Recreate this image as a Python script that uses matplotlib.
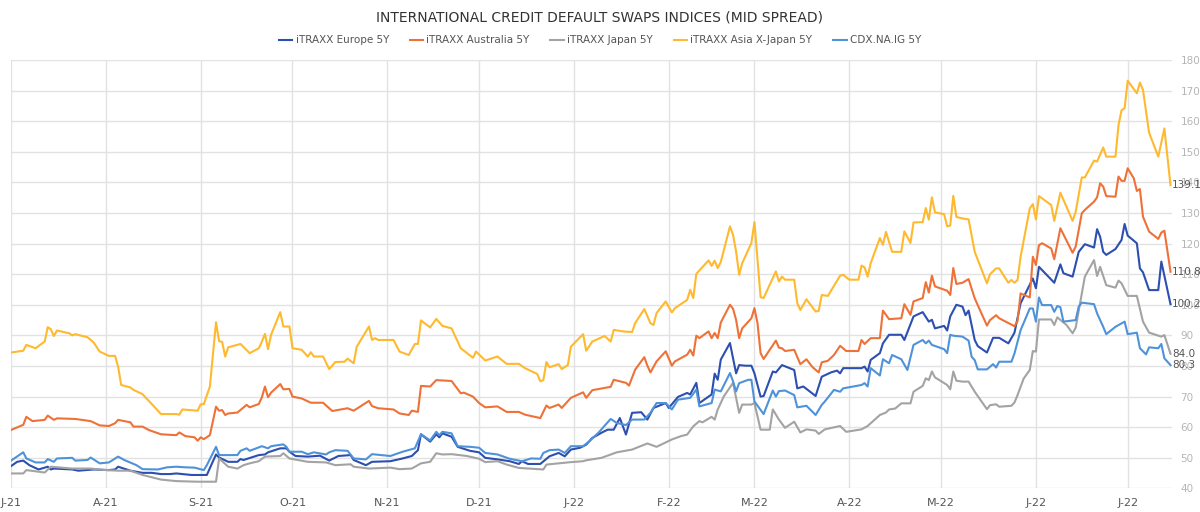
import matplotlib
matplotlib.use("Agg")
import matplotlib.pyplot as plt
import matplotlib.dates as mdates
import pandas as pd

# --- data (bp) ---
eu_dates = ["2021-07-01", "2021-07-03", "2021-07-05", "2021-07-07", "2021-07-10", "2021-07-13", "2021-07-14",
            "2021-07-15", "2021-07-21", "2021-07-23", "2021-07-28", "2021-08-02", "2021-08-04", "2021-08-05",
            "2021-08-09", "2021-08-13", "2021-08-16", "2021-08-19", "2021-08-22", "2021-08-24", "2021-08-29",
            "2021-09-03", "2021-09-06", "2021-09-07", "2021-09-10", "2021-09-13", "2021-09-14", "2021-09-15",
            "2021-09-20", "2021-09-22", "2021-09-23", "2021-09-27", "2021-09-29", "2021-09-30", "2021-10-02",
            "2021-10-06", "2021-10-10", "2021-10-13", "2021-10-16", "2021-10-20", "2021-10-21", "2021-10-25",
            "2021-10-27", "2021-11-02", "2021-11-06", "2021-11-09", "2021-11-11", "2021-11-12", "2021-11-15",
            "2021-11-17", "2021-11-18", "2021-11-19", "2021-11-22", "2021-11-24", "2021-11-28", "2021-12-01",
            "2021-12-03", "2021-12-07", "2021-12-11", "2021-12-14", "2021-12-15", "2021-12-17", "2021-12-21",
            "2021-12-24", "2021-12-27", "2021-12-29", "2021-12-31", "2022-01-03", "2022-01-05", "2022-01-07",
            "2022-01-10", "2022-01-12", "2022-01-14", "2022-01-16", "2022-01-18", "2022-01-20", "2022-01-23",
            "2022-01-25", "2022-01-27", "2022-01-31", "2022-02-01", "2022-02-04", "2022-02-07", "2022-02-08",
            "2022-02-10", "2022-02-11", "2022-02-15", "2022-02-16", "2022-02-17", "2022-02-18", "2022-02-21",
            "2022-02-22", "2022-02-23", "2022-02-24", "2022-02-26", "2022-02-28", "2022-03-01", "2022-03-03",
            "2022-03-04", "2022-03-07", "2022-03-08", "2022-03-10", "2022-03-14", "2022-03-15", "2022-03-17",
            "2022-03-21", "2022-03-23", "2022-03-26", "2022-03-28", "2022-03-29", "2022-03-30", "2022-04-05",
            "2022-04-06", "2022-04-07", "2022-04-08", "2022-04-11", "2022-04-12", "2022-04-14", "2022-04-18",
            "2022-04-19", "2022-04-22", "2022-04-25", "2022-04-27", "2022-04-28", "2022-04-29", "2022-05-02",
            "2022-05-03", "2022-05-04", "2022-05-06", "2022-05-08", "2022-05-09", "2022-05-10", "2022-05-12",
            "2022-05-13", "2022-05-16", "2022-05-18", "2022-05-20", "2022-05-23", "2022-05-25", "2022-05-27",
            "2022-05-31", "2022-06-01", "2022-06-02", "2022-06-07", "2022-06-09", "2022-06-10", "2022-06-13",
            "2022-06-15", "2022-06-17", "2022-06-20", "2022-06-21", "2022-06-22", "2022-06-23", "2022-06-24",
            "2022-06-27", "2022-06-29", "2022-06-30", "2022-07-01", "2022-07-04", "2022-07-05", "2022-07-06",
            "2022-07-08", "2022-07-11", "2022-07-12", "2022-07-15"]
eu_vals = [47.3, 48.7, 49.1, 47.6, 46.2, 47.1, 46.2, 46.5, 46.2, 45.8, 46.2, 46.0, 46.2, 47.1, 45.8, 45.1, 45.1,
           44.7, 44.7, 44.9, 44.4, 44.4, 51.1, 50.1, 48.7, 48.7, 49.6, 49.3, 50.9, 51.1, 51.8, 53.1, 53.1, 52.0,
           50.6, 50.4, 50.7, 49.1, 50.6, 50.9, 49.3, 47.6, 48.7, 48.9, 49.8, 50.6, 52.5, 57.7, 55.3, 57.7, 56.7,
           58.0, 56.9, 53.6, 52.3, 51.8, 50.0, 49.5, 48.9, 48.0, 48.9, 48.0, 48.0, 50.5, 51.6, 50.5, 52.7, 53.3,
           54.3, 56.5, 58.2, 59.2, 59.2, 63.0, 57.6, 64.7, 64.9, 62.5, 66.3, 67.9, 66.3, 69.9, 71.2, 70.7, 74.5,
           67.9, 70.7, 77.5, 75.5, 82.1, 87.5, 82.5, 77.6, 80.3, 80.1, 80.1, 77.6, 70.0, 70.2, 78.2, 77.9, 80.3,
           78.7, 72.7, 73.3, 70.2, 76.5, 77.9, 78.5, 77.6, 79.3, 79.3, 79.8, 78.2, 82.0, 84.2, 87.4, 90.2, 90.2,
           88.5, 96.2, 97.6, 94.5, 95.1, 92.3, 93.1, 91.6, 96.2, 100.0, 99.4, 96.6, 98.1, 88.5, 86.5, 84.4, 89.2,
           89.2, 87.4, 90.9, 100.5, 108.6, 105.4, 112.4, 107.2, 113.2, 110.3, 109.2, 117.3, 119.8, 118.7, 124.7,
           122.2, 117.3, 116.3, 118.2, 121.2, 126.4, 122.6, 120.1, 111.9, 110.6, 104.8, 104.8, 114.1, 100.2]

au_dates = ["2021-07-01", "2021-07-05", "2021-07-06", "2021-07-08", "2021-07-12", "2021-07-13", "2021-07-15",
            "2021-07-16", "2021-07-22", "2021-07-27", "2021-07-30", "2021-08-02", "2021-08-04", "2021-08-05",
            "2021-08-09", "2021-08-10", "2021-08-13", "2021-08-15", "2021-08-19", "2021-08-24", "2021-08-25",
            "2021-08-27", "2021-08-30", "2021-08-31", "2021-09-01", "2021-09-02", "2021-09-04", "2021-09-06",
            "2021-09-07", "2021-09-08", "2021-09-09", "2021-09-10", "2021-09-13", "2021-09-16", "2021-09-17",
            "2021-09-20", "2021-09-21", "2021-09-22", "2021-09-23", "2021-09-24", "2021-09-27", "2021-09-28",
            "2021-09-30", "2021-10-01", "2021-10-04", "2021-10-07", "2021-10-11", "2021-10-14", "2021-10-19",
            "2021-10-21", "2021-10-26", "2021-10-27", "2021-10-29", "2021-11-03", "2021-11-05", "2021-11-08",
            "2021-11-09", "2021-11-11", "2021-11-12", "2021-11-15", "2021-11-17", "2021-11-22", "2021-11-25",
            "2021-11-26", "2021-11-29", "2021-12-01", "2021-12-03", "2021-12-07", "2021-12-10", "2021-12-14",
            "2021-12-16", "2021-12-21", "2021-12-23", "2021-12-24", "2021-12-27", "2021-12-28", "2021-12-31",
            "2022-01-04", "2022-01-05", "2022-01-07", "2022-01-13", "2022-01-14", "2022-01-18", "2022-01-19",
            "2022-01-21", "2022-01-24", "2022-01-25", "2022-01-26", "2022-01-28", "2022-01-31", "2022-02-02",
            "2022-02-03", "2022-02-07", "2022-02-08", "2022-02-09", "2022-02-10", "2022-02-11", "2022-02-14",
            "2022-02-15", "2022-02-16", "2022-02-17", "2022-02-18", "2022-02-21", "2022-02-22", "2022-02-23",
            "2022-02-24", "2022-02-25", "2022-02-28", "2022-03-01", "2022-03-02", "2022-03-03", "2022-03-04",
            "2022-03-08", "2022-03-09", "2022-03-10", "2022-03-11", "2022-03-14", "2022-03-16", "2022-03-18",
            "2022-03-20", "2022-03-22", "2022-03-23", "2022-03-25", "2022-03-27", "2022-03-29", "2022-03-31",
            "2022-04-04", "2022-04-05", "2022-04-06", "2022-04-08", "2022-04-11", "2022-04-12", "2022-04-14",
            "2022-04-18", "2022-04-19", "2022-04-21", "2022-04-22", "2022-04-25", "2022-04-26", "2022-04-27",
            "2022-04-28", "2022-04-29", "2022-05-03", "2022-05-04", "2022-05-05", "2022-05-06", "2022-05-08",
            "2022-05-10", "2022-05-12", "2022-05-16", "2022-05-17", "2022-05-19", "2022-05-20", "2022-05-25",
            "2022-05-26", "2022-05-27", "2022-05-30", "2022-05-31", "2022-06-01", "2022-06-02", "2022-06-03",
            "2022-06-06", "2022-06-07", "2022-06-09", "2022-06-13", "2022-06-14", "2022-06-16", "2022-06-17",
            "2022-06-20", "2022-06-21", "2022-06-22", "2022-06-23", "2022-06-24", "2022-06-27", "2022-06-28",
            "2022-06-29", "2022-06-30", "2022-07-01", "2022-07-03", "2022-07-04", "2022-07-05", "2022-07-06",
            "2022-07-08", "2022-07-11", "2022-07-12", "2022-07-13", "2022-07-15"]
au_vals = [59.1, 60.8, 63.4, 62.0, 62.4, 63.8, 62.4, 62.9, 62.7, 62.0, 60.6, 60.4, 61.3, 62.4, 61.6, 60.2, 60.2,
           59.1, 57.7, 57.4, 58.3, 57.1, 56.7, 55.6, 56.7, 56.1, 57.4, 66.7, 65.4, 65.6, 64.0, 64.5, 64.8, 67.3,
           66.5, 67.6, 69.8, 73.3, 69.8, 71.3, 74.1, 72.4, 72.5, 70.0, 69.4, 68.0, 68.0, 65.3, 66.2, 65.4, 68.6,
           66.9, 66.2, 65.8, 64.5, 64.0, 65.4, 65.0, 73.5, 73.3, 75.4, 75.1, 71.1, 71.3, 70.0, 67.9, 66.5, 66.8,
           65.0, 65.0, 64.1, 63.0, 67.1, 66.3, 67.4, 66.3, 69.6, 71.4, 69.6, 72.1, 73.2, 75.5, 74.5, 73.6, 78.8,
           82.9, 80.1, 77.9, 81.5, 84.8, 80.1, 81.5, 83.7, 85.3, 83.4, 89.9, 89.1, 91.3, 89.1, 90.8, 89.1, 94.2,
           100.0, 98.7, 95.1, 89.1, 92.3, 95.6, 98.9, 94.0, 84.2, 82.3, 88.3, 86.0, 85.8, 84.9, 85.3, 80.6, 82.2,
           79.6, 77.9, 81.2, 81.7, 83.6, 86.6, 84.9, 84.9, 88.5, 87.2, 89.1, 89.1, 98.1, 95.3, 95.6, 100.2, 96.7,
           101.1, 102.2, 107.4, 104.0, 109.5, 106.0, 104.6, 103.2, 112.0, 106.8, 107.2, 108.4, 102.1, 93.2, 95.0,
           96.6, 95.6, 93.0, 94.7, 103.7, 102.4, 115.7, 113.0, 119.5, 120.1, 118.4, 114.9, 125.0, 117.0, 119.0,
           129.9, 131.0, 133.7, 135.1, 139.7, 138.6, 135.5, 135.3, 141.9, 140.5, 140.5, 144.6, 141.3, 137.2,
           137.8, 128.8, 123.9, 121.5, 123.6, 124.2, 110.8]

jp_dates = ["2021-07-01", "2021-07-05", "2021-07-06", "2021-07-12", "2021-07-14", "2021-07-21", "2021-07-27",
            "2021-08-01", "2021-08-05", "2021-08-09", "2021-08-13", "2021-08-19", "2021-08-24", "2021-08-31",
            "2021-09-06", "2021-09-07", "2021-09-10", "2021-09-13", "2021-09-15", "2021-09-17", "2021-09-20",
            "2021-09-22", "2021-09-27", "2021-09-28", "2021-09-30", "2021-10-06", "2021-10-12", "2021-10-15",
            "2021-10-20", "2021-10-21", "2021-10-26", "2021-11-02", "2021-11-05", "2021-11-09", "2021-11-12",
            "2021-11-15", "2021-11-17", "2021-11-19", "2021-11-22", "2021-11-27", "2021-12-01", "2021-12-03",
            "2021-12-07", "2021-12-10", "2021-12-14", "2021-12-19", "2021-12-22", "2021-12-23", "2021-12-27",
            "2021-12-31", "2022-01-04", "2022-01-05", "2022-01-10", "2022-01-15", "2022-01-20", "2022-01-25",
            "2022-01-28", "2022-02-02", "2022-02-05", "2022-02-07", "2022-02-09", "2022-02-11", "2022-02-12",
            "2022-02-15", "2022-02-16", "2022-02-17", "2022-02-19", "2022-02-22", "2022-02-24", "2022-02-25",
            "2022-02-28", "2022-03-01", "2022-03-03", "2022-03-06", "2022-03-07", "2022-03-09", "2022-03-11",
            "2022-03-14", "2022-03-16", "2022-03-18", "2022-03-21", "2022-03-22", "2022-03-24", "2022-03-28",
            "2022-03-29", "2022-03-31", "2022-04-05", "2022-04-07", "2022-04-11", "2022-04-13", "2022-04-14",
            "2022-04-16", "2022-04-18", "2022-04-21", "2022-04-22", "2022-04-25", "2022-04-26", "2022-04-27",
            "2022-04-28", "2022-04-29", "2022-05-03", "2022-05-04", "2022-05-05", "2022-05-06", "2022-05-08",
            "2022-05-10", "2022-05-12", "2022-05-16", "2022-05-17", "2022-05-19", "2022-05-20", "2022-05-24",
            "2022-05-25", "2022-05-26", "2022-05-28", "2022-05-30", "2022-05-31", "2022-06-01", "2022-06-02",
            "2022-06-06", "2022-06-07", "2022-06-08", "2022-06-11", "2022-06-13", "2022-06-14", "2022-06-17",
            "2022-06-20", "2022-06-21", "2022-06-22", "2022-06-24", "2022-06-27", "2022-06-28", "2022-06-29",
            "2022-07-01", "2022-07-04", "2022-07-06", "2022-07-08", "2022-07-12", "2022-07-13", "2022-07-15"]
jp_vals = [44.9, 44.9, 46.0, 45.2, 47.1, 46.5, 46.5, 46.0, 45.8, 45.8, 44.4, 42.9, 42.4, 42.2, 42.2, 49.8, 47.1,
           46.5, 47.6, 48.2, 48.9, 50.4, 50.6, 51.5, 49.8, 48.7, 48.5, 47.6, 47.9, 47.1, 46.5, 46.8, 46.3, 46.5,
           48.2, 48.7, 51.5, 51.1, 51.2, 50.6, 49.7, 48.6, 48.9, 47.8, 46.7, 46.4, 46.2, 47.8, 48.2, 48.6, 48.9,
           49.2, 50.0, 51.8, 52.7, 54.7, 53.6, 56.0, 57.1, 57.6, 60.3, 62.0, 61.6, 63.4, 62.5, 65.8, 70.1, 74.5,
           64.7, 67.4, 67.4, 67.9, 59.2, 59.2, 65.8, 62.5, 59.8, 61.8, 58.3, 59.3, 58.9, 57.8, 59.3, 60.2, 60.4,
           58.5, 59.3, 60.4, 64.0, 64.8, 65.8, 66.1, 67.8, 67.8, 71.6, 73.5, 76.0, 75.4, 78.2, 76.3, 73.8, 72.4,
           78.2, 75.2, 74.9, 74.9, 71.6, 65.9, 67.2, 67.5, 66.7, 67.0, 68.1, 70.5, 75.9, 78.7, 84.9, 84.7, 95.2,
           95.2, 93.4, 95.9, 93.4, 90.7, 92.5, 109.2, 114.6, 109.4, 112.4, 106.4, 105.6, 107.9, 107.0, 102.9,
           102.9, 94.5, 90.9, 89.6, 90.1, 84.0]

asia_dates = ["2021-07-01", "2021-07-05", "2021-07-06", "2021-07-09", "2021-07-12", "2021-07-13", "2021-07-14",
              "2021-07-15", "2021-07-16", "2021-07-20", "2021-07-21", "2021-07-22", "2021-07-26", "2021-07-28",
              "2021-07-30", "2021-08-02", "2021-08-04", "2021-08-05", "2021-08-06", "2021-08-09", "2021-08-10",
              "2021-08-13", "2021-08-14", "2021-08-17", "2021-08-19", "2021-08-24", "2021-08-25", "2021-08-26",
              "2021-08-31", "2021-09-01", "2021-09-02", "2021-09-04", "2021-09-06", "2021-09-07", "2021-09-08",
              "2021-09-09", "2021-09-10", "2021-09-14", "2021-09-17", "2021-09-20", "2021-09-21", "2021-09-22",
              "2021-09-23", "2021-09-24", "2021-09-27", "2021-09-28", "2021-09-30", "2021-10-01", "2021-10-04",
              "2021-10-06", "2021-10-07", "2021-10-08", "2021-10-11", "2021-10-13", "2021-10-15", "2021-10-18",
              "2021-10-19", "2021-10-21", "2021-10-22", "2021-10-26", "2021-10-27", "2021-10-28", "2021-10-29",
              "2021-11-03", "2021-11-05", "2021-11-08", "2021-11-10", "2021-11-11", "2021-11-12", "2021-11-15",
              "2021-11-17", "2021-11-19", "2021-11-22", "2021-11-25", "2021-11-29", "2021-11-30", "2021-12-03",
              "2021-12-07", "2021-12-10", "2021-12-14", "2021-12-16", "2021-12-20", "2021-12-21", "2021-12-22",
              "2021-12-23", "2021-12-24", "2021-12-27", "2021-12-28", "2021-12-30", "2021-12-31", "2022-01-04",
              "2022-01-05", "2022-01-07", "2022-01-11", "2022-01-13", "2022-01-14", "2022-01-17", "2022-01-20",
              "2022-01-21", "2022-01-24", "2022-01-26", "2022-01-27", "2022-01-28", "2022-01-31", "2022-02-02",
              "2022-02-03", "2022-02-07", "2022-02-08", "2022-02-09", "2022-02-10", "2022-02-14", "2022-02-15",
              "2022-02-16", "2022-02-17", "2022-02-18", "2022-02-21", "2022-02-22", "2022-02-23", "2022-02-24",
              "2022-02-25", "2022-02-28", "2022-03-01", "2022-03-02", "2022-03-03", "2022-03-04", "2022-03-08",
              "2022-03-09", "2022-03-10", "2022-03-11", "2022-03-14", "2022-03-15", "2022-03-16", "2022-03-18",
              "2022-03-21", "2022-03-22", "2022-03-23", "2022-03-25", "2022-03-29", "2022-03-30", "2022-04-01",
              "2022-04-04", "2022-04-05", "2022-04-06", "2022-04-07", "2022-04-08", "2022-04-11", "2022-04-12",
              "2022-04-13", "2022-04-15", "2022-04-18", "2022-04-19", "2022-04-21", "2022-04-22", "2022-04-25",
              "2022-04-26", "2022-04-27", "2022-04-28", "2022-04-29", "2022-05-02", "2022-05-03", "2022-05-04",
              "2022-05-05", "2022-05-06", "2022-05-08", "2022-05-10", "2022-05-12", "2022-05-16", "2022-05-17",
              "2022-05-19", "2022-05-20", "2022-05-23", "2022-05-24", "2022-05-25", "2022-05-26", "2022-05-27",
              "2022-05-30", "2022-05-31", "2022-06-01", "2022-06-02", "2022-06-06", "2022-06-07", "2022-06-09",
              "2022-06-13", "2022-06-14", "2022-06-16", "2022-06-17", "2022-06-20", "2022-06-21", "2022-06-23",
              "2022-06-24", "2022-06-27", "2022-06-28", "2022-06-29", "2022-06-30", "2022-07-01", "2022-07-04",
              "2022-07-05", "2022-07-06", "2022-07-08", "2022-07-11", "2022-07-13", "2022-07-15"]
asia_vals = [84.4, 85.0, 86.9, 85.8, 88.0, 92.7, 92.0, 89.8, 91.6, 90.7, 90.0, 90.4, 89.4, 87.7, 84.7, 83.3,
             83.3, 79.8, 73.8, 73.0, 72.2, 70.8, 69.7, 66.5, 64.3, 64.3, 64.1, 65.8, 65.4, 67.5, 67.5, 73.3, 94.3,
             88.1, 87.9, 83.1, 86.1, 87.2, 84.2, 85.8, 88.0, 90.5, 85.5, 90.2, 97.6, 92.9, 92.9, 85.8, 85.3, 83.1,
             84.5, 83.1, 83.1, 79.0, 81.3, 81.4, 82.4, 80.9, 86.3, 92.9, 88.5, 89.1, 88.5, 88.5, 84.7, 83.6, 87.2,
             87.2, 94.9, 92.6, 95.4, 93.1, 92.3, 85.8, 82.7, 84.7, 81.8, 83.1, 80.7, 80.7, 79.3, 77.4, 75.0, 75.4,
             81.3, 79.6, 80.6, 79.0, 80.3, 86.3, 90.4, 85.0, 88.0, 89.8, 88.0, 91.8, 91.3, 91.1, 94.0, 98.6, 94.0,
             93.4, 97.3, 101.1, 97.5, 98.9, 101.6, 104.9, 102.2, 110.1, 114.5, 112.7, 114.4, 112.0, 114.0, 125.6,
             122.9, 117.4, 109.8, 113.6, 120.2, 127.0, 114.7, 102.5, 102.2, 110.9, 107.6, 109.2, 108.2, 108.2,
             100.5, 98.3, 101.8, 97.8, 98.0, 103.2, 102.9, 109.5, 109.8, 108.2, 108.2, 112.8, 112.2, 109.2, 113.6,
             121.8, 119.6, 123.8, 117.3, 117.3, 124.0, 120.2, 126.9, 127.0, 131.6, 127.8, 135.1, 130.2, 129.6,
             125.6, 125.9, 135.6, 128.7, 128.2, 127.9, 117.3, 107.0, 110.0, 111.9, 111.9, 107.2, 108.1, 107.2,
             108.1, 115.7, 131.5, 132.9, 127.9, 135.5, 132.6, 127.4, 136.6, 127.4, 130.4, 141.6, 141.6, 147.1,
             146.8, 151.4, 148.4, 148.4, 158.7, 163.6, 164.2, 173.2, 169.1, 172.6, 170.2, 156.2, 148.4, 157.6,
             139.1]

cdx_dates = ["2021-07-01", "2021-07-05", "2021-07-06", "2021-07-09", "2021-07-12", "2021-07-13", "2021-07-15",
             "2021-07-16", "2021-07-21", "2021-07-22", "2021-07-26", "2021-07-27", "2021-07-30", "2021-08-02",
             "2021-08-05", "2021-08-07", "2021-08-11", "2021-08-13", "2021-08-18", "2021-08-21", "2021-08-24",
             "2021-08-27", "2021-08-30", "2021-09-02", "2021-09-03", "2021-09-06", "2021-09-07", "2021-09-13",
             "2021-09-14", "2021-09-16", "2021-09-17", "2021-09-21", "2021-09-23", "2021-09-24", "2021-09-28",
             "2021-09-29", "2021-09-30", "2021-10-04", "2021-10-06", "2021-10-08", "2021-10-12", "2021-10-13",
             "2021-10-15", "2021-10-19", "2021-10-21", "2021-10-25", "2021-10-27", "2021-11-02", "2021-11-06",
             "2021-11-10", "2021-11-12", "2021-11-15", "2021-11-17", "2021-11-18", "2021-11-19", "2021-11-22",
             "2021-11-24", "2021-11-28", "2021-12-01", "2021-12-03", "2021-12-07", "2021-12-11", "2021-12-15",
             "2021-12-18", "2021-12-21", "2021-12-22", "2021-12-24", "2021-12-27", "2021-12-29", "2021-12-31",
             "2022-01-04", "2022-01-06", "2022-01-09", "2022-01-13", "2022-01-15", "2022-01-18", "2022-01-20",
             "2022-01-24", "2022-01-26", "2022-01-28", "2022-01-31", "2022-02-02", "2022-02-04", "2022-02-08",
             "2022-02-10", "2022-02-11", "2022-02-15", "2022-02-16", "2022-02-18", "2022-02-21", "2022-02-22",
             "2022-02-23", "2022-02-24", "2022-02-27", "2022-02-28", "2022-03-01", "2022-03-04", "2022-03-07",
             "2022-03-08", "2022-03-09", "2022-03-11", "2022-03-14", "2022-03-15", "2022-03-18", "2022-03-21",
             "2022-03-23", "2022-03-24", "2022-03-27", "2022-03-29", "2022-03-30", "2022-04-05", "2022-04-06",
             "2022-04-07", "2022-04-08", "2022-04-11", "2022-04-12", "2022-04-14", "2022-04-15", "2022-04-18",
             "2022-04-20", "2022-04-22", "2022-04-25", "2022-04-26", "2022-04-27", "2022-04-28", "2022-05-02",
             "2022-05-03", "2022-05-04", "2022-05-05", "2022-05-08", "2022-05-10", "2022-05-11", "2022-05-12",
             "2022-05-13", "2022-05-16", "2022-05-18", "2022-05-19", "2022-05-20", "2022-05-24", "2022-05-25",
             "2022-05-27", "2022-05-30", "2022-05-31", "2022-06-01", "2022-06-02", "2022-06-03", "2022-06-06",
             "2022-06-07", "2022-06-08", "2022-06-09", "2022-06-10", "2022-06-14", "2022-06-15", "2022-06-16",
             "2022-06-20", "2022-06-21", "2022-06-23", "2022-06-24", "2022-06-27", "2022-06-30", "2022-07-01",
             "2022-07-04", "2022-07-05", "2022-07-07", "2022-07-08", "2022-07-11", "2022-07-12", "2022-07-13",
             "2022-07-15"]
cdx_vals = [49.1, 51.8, 49.8, 48.5, 48.5, 49.6, 48.7, 49.8, 50.0, 49.1, 49.3, 50.1, 48.2, 48.5, 50.4, 49.3, 47.6,
            46.3, 46.2, 46.9, 47.1, 46.9, 46.8, 46.0, 47.6, 53.6, 50.9, 50.9, 52.3, 53.1, 52.3, 53.8, 53.1, 53.8,
            54.4, 53.6, 52.0, 52.0, 51.2, 51.8, 51.1, 51.8, 52.5, 52.3, 49.8, 49.5, 51.2, 50.6, 52.0, 53.1, 57.7,
            55.7, 58.5, 57.4, 58.5, 58.0, 53.8, 53.6, 53.3, 51.6, 51.1, 49.7, 48.9, 49.8, 49.7, 51.6, 52.5, 52.7,
            51.6, 53.8, 53.8, 55.4, 58.2, 62.7, 61.4, 60.7, 62.5, 62.5, 64.7, 67.9, 67.9, 65.8, 69.0, 69.6, 72.3,
            66.8, 67.9, 72.3, 71.7, 77.7, 75.0, 71.7, 74.4, 75.5, 75.5, 68.4, 64.3, 72.0, 70.0, 71.8, 72.0, 70.5,
            66.5, 67.0, 64.0, 67.3, 68.4, 72.2, 71.6, 72.7, 73.8, 74.4, 73.3, 79.3, 76.9, 82.2, 80.9, 83.6, 82.2,
            78.7, 86.9, 88.5, 87.4, 88.3, 86.9, 85.5, 84.2, 90.2, 89.9, 89.6, 88.3, 83.0, 81.9, 78.9, 78.9, 80.6,
            79.5, 81.4, 81.4, 84.1, 91.7, 98.8, 98.8, 94.5, 102.4, 99.9, 99.9, 97.7, 99.6, 99.2, 94.5, 95.0, 99.4,
            100.7, 100.2, 97.2, 92.8, 90.4, 92.8, 94.5, 90.4, 90.9, 85.8, 83.8, 86.1, 85.8, 87.2, 82.5, 80.3]

series_names = ["iTRAXX Europe 5Y", "iTRAXX Australia 5Y", "iTRAXX Japan 5Y", "iTRAXX Asia X-Japan 5Y", "CDX.NA.IG 5Y"]
series_colors = ["#2C4FB0", "#EE7238", "#A3A3A3", "#FFB92E", "#4E92DA"]
series_data = [(eu_dates, eu_vals), (au_dates, au_vals), (jp_dates, jp_vals),
               (asia_dates, asia_vals), (cdx_dates, cdx_vals)]

fig = plt.figure(figsize=(12, 5.12), dpi=100)
ax = fig.add_axes([0.0092, 0.046, 0.9675, 0.837])

for name, color, (d, v) in zip(series_names, series_colors, series_data):
    ax.plot(pd.to_datetime(d), v, color=color, lw=1.5, label=name)
    # value tag at the last point
    ax.annotate(f"{v[-1]:.1f}", (pd.to_datetime(d[-1]), v[-1]), xytext=(1, 0),
                textcoords="offset points", ha="left", va="center", fontsize=7.5, color="#555555",
                annotation_clip=False)

ax.set_xlim(pd.Timestamp("2021-07-01"), pd.Timestamp("2022-07-15 12:00"))
ax.set_ylim(40, 180)
ax.set_yticks(range(40, 181, 10))
ax.yaxis.tick_right()
ax.tick_params(axis="y", length=0, pad=6, labelsize=7.5, labelcolor="#b5b5b5")
ax.xaxis.set_major_locator(mdates.MonthLocator())
ax.xaxis.set_major_formatter(plt.FuncFormatter(
    lambda x, p: mdates.num2date(x).strftime("%b")[0] + "-" + mdates.num2date(x).strftime("%y")))
ax.tick_params(axis="x", length=0, pad=7, labelsize=8, labelcolor="#555555")
ax.grid(True, color="#e2e2e2", lw=1)
ax.set_axisbelow(True)
for s in ax.spines.values():
    s.set_visible(False)

fig.text(0.5, 0.966, "INTERNATIONAL CREDIT DEFAULT SWAPS INDICES (MID SPREAD)", ha="center", va="center",
         fontsize=10, color="#333333")
fig.legend(loc="center", bbox_to_anchor=(0.5, 0.921), ncol=5, frameon=False, fontsize=7.5,
           handlelength=1.3, handletextpad=0.3, columnspacing=2.0, labelcolor="#555555")

fig.savefig("out.png", dpi=100)
